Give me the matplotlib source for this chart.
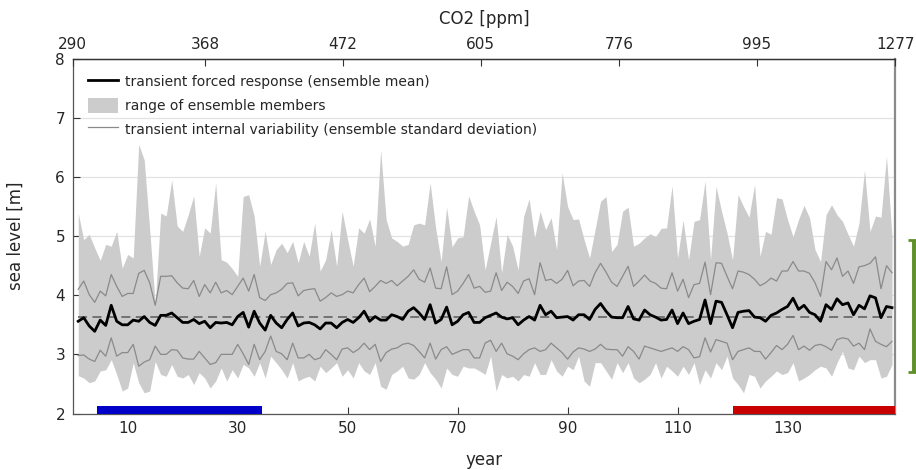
import numpy as np
import matplotlib
matplotlib.use("Agg")
import matplotlib.pyplot as plt
from matplotlib.lines import Line2D
from matplotlib.patches import Patch

years = list(range(1, 150))

ens_mean = [
    3.56, 3.62, 3.48, 3.39, 3.58, 3.49, 3.83, 3.56, 3.50, 3.50,
    3.58, 3.56, 3.64, 3.54, 3.49, 3.66, 3.66, 3.70, 3.62, 3.54,
    3.54, 3.59, 3.52, 3.56, 3.45, 3.54, 3.53, 3.54, 3.50, 3.64,
    3.71, 3.46, 3.73, 3.53, 3.41, 3.66, 3.53, 3.45, 3.59, 3.70,
    3.48, 3.53, 3.54, 3.50, 3.43, 3.53, 3.53, 3.45, 3.54, 3.59,
    3.54, 3.62, 3.73, 3.56, 3.64, 3.58, 3.58, 3.67, 3.64, 3.59,
    3.73, 3.79, 3.70, 3.59, 3.84, 3.53, 3.59, 3.80, 3.50, 3.56,
    3.67, 3.71, 3.54, 3.54, 3.62, 3.66, 3.70, 3.63, 3.60, 3.62,
    3.50, 3.58, 3.64, 3.58, 3.83, 3.67, 3.73, 3.62, 3.63, 3.64,
    3.58, 3.67, 3.67, 3.59, 3.76, 3.86, 3.73, 3.63, 3.62, 3.62,
    3.81, 3.60, 3.58, 3.75, 3.67, 3.63, 3.58, 3.59, 3.75, 3.52,
    3.70, 3.52, 3.56, 3.59, 3.92, 3.52, 3.90, 3.88, 3.67, 3.45,
    3.71, 3.73, 3.74, 3.63, 3.62, 3.56, 3.66, 3.70, 3.76, 3.81,
    3.95, 3.76, 3.83, 3.71, 3.67, 3.56, 3.84, 3.76, 3.94, 3.84,
    3.87, 3.67, 3.83, 3.77, 3.99, 3.955, 3.62, 3.81, 3.79,
]

ens_max = [
    5.39, 4.94, 5.03, 4.80, 4.59, 4.86, 4.83, 5.08, 4.46, 4.69,
    4.63, 6.55, 6.29, 5.11, 3.85, 5.39, 5.34, 5.95, 5.17, 5.08,
    5.36, 5.68, 4.66, 5.14, 5.05, 5.90, 4.60, 4.56, 4.45, 4.32,
    5.67, 5.70, 5.34, 4.49, 5.08, 4.52, 4.77, 4.88, 4.72, 4.91,
    4.55, 4.91, 4.66, 5.22, 4.41, 4.60, 5.11, 4.49, 5.42, 4.94,
    4.49, 5.14, 5.05, 5.29, 4.83, 6.46, 5.28, 4.97, 4.91, 4.83,
    4.86, 5.19, 5.22, 5.19, 5.90, 5.14, 4.57, 5.49, 4.82, 4.97,
    4.99, 5.68, 5.42, 5.19, 4.43, 4.88, 5.33, 4.38, 5.03, 4.83,
    4.43, 5.33, 5.63, 4.97, 5.42, 5.11, 5.31, 4.77, 6.07, 5.50,
    5.28, 5.29, 4.94, 4.63, 5.11, 5.59, 5.67, 4.74, 4.86, 5.42,
    5.49, 4.83, 4.88, 4.97, 5.04, 4.99, 5.13, 5.14, 5.85, 4.63,
    5.27, 4.60, 5.25, 5.28, 5.93, 4.60, 5.84, 5.42, 5.05, 4.60,
    5.70, 5.50, 5.32, 5.87, 4.66, 5.08, 5.03, 5.65, 5.63, 5.28,
    4.99, 5.28, 5.52, 5.31, 4.77, 4.57, 5.36, 5.53, 5.36, 5.25,
    5.03, 4.83, 5.22, 6.12, 5.08, 5.34, 5.32, 6.35, 5.00,
]

ens_min = [
    2.64, 2.60, 2.52, 2.55, 2.72, 2.74, 2.91, 2.66, 2.38, 2.43,
    2.86, 2.52, 2.35, 2.38, 2.88, 2.66, 2.63, 2.83, 2.63, 2.60,
    2.66, 2.49, 2.69, 2.60, 2.43, 2.55, 2.77, 2.55, 2.74, 2.60,
    2.83, 2.77, 2.63, 2.86, 2.60, 2.97, 2.86, 2.74, 2.60, 2.86,
    2.55, 2.60, 2.63, 2.55, 2.80, 2.69, 2.77, 2.86, 2.63, 2.74,
    2.60, 2.86, 2.72, 2.66, 2.86, 2.46, 2.41, 2.66, 2.72, 2.80,
    2.60, 2.58, 2.66, 2.86, 2.69, 2.58, 2.43, 2.77, 2.66, 2.63,
    2.80, 2.77, 2.77, 2.72, 2.66, 2.97, 2.38, 2.66, 2.60, 2.63,
    2.55, 2.66, 2.63, 2.86, 2.66, 2.66, 2.91, 2.72, 2.63, 2.80,
    2.74, 2.97, 2.55, 2.46, 2.86, 2.86, 2.72, 2.58, 2.86, 2.69,
    2.86, 2.60, 2.52, 2.58, 2.66, 2.86, 2.60, 2.80, 2.72, 2.63,
    2.80, 2.66, 2.86, 2.49, 2.74, 2.60, 2.86, 2.74, 2.97, 2.60,
    2.49, 2.35, 2.66, 2.63, 2.43, 2.55, 2.63, 2.72, 2.66, 2.69,
    2.86, 2.55, 2.60, 2.66, 2.74, 2.80, 2.77, 2.63, 2.86, 3.05,
    2.77, 2.74, 2.97, 2.86, 2.91, 2.91, 2.60, 2.63, 2.83,
]

std_upper = [
    4.10, 4.24, 4.01, 3.88, 4.07, 3.99, 4.35, 4.15, 3.98, 4.03,
    4.03, 4.37, 4.42, 4.21, 3.83, 4.32, 4.32, 4.33, 4.21, 4.12,
    4.11, 4.25, 3.98, 4.18, 4.04, 4.22, 4.04, 4.08, 4.01, 4.15,
    4.29, 4.07, 4.35, 3.96, 3.91, 4.01, 4.04, 4.10, 4.20, 4.21,
    3.99, 4.08, 4.10, 4.11, 3.90, 3.96, 4.04, 3.98, 4.01, 4.07,
    4.04, 4.18, 4.29, 4.06, 4.15, 4.25, 4.20, 4.25, 4.16, 4.24,
    4.32, 4.43, 4.27, 4.22, 4.46, 4.12, 4.11, 4.48, 4.01, 4.07,
    4.20, 4.35, 4.12, 4.15, 4.05, 4.07, 4.38, 4.08, 4.22, 4.15,
    4.03, 4.24, 4.28, 4.01, 4.55, 4.25, 4.27, 4.20, 4.27, 4.42,
    4.16, 4.24, 4.25, 4.15, 4.38, 4.54, 4.39, 4.22, 4.15, 4.32,
    4.49, 4.15, 4.24, 4.34, 4.24, 4.20, 4.12, 4.11, 4.38, 4.07,
    4.27, 3.96, 4.18, 4.20, 4.56, 4.01, 4.55, 4.54, 4.32, 4.11,
    4.41, 4.39, 4.35, 4.27, 4.16, 4.21, 4.29, 4.24, 4.41, 4.41,
    4.57, 4.41, 4.41, 4.37, 4.21, 3.98, 4.57, 4.43, 4.63, 4.32,
    4.41, 4.20, 4.48, 4.50, 4.54, 4.65, 4.11, 4.50, 4.38,
]

std_lower = [
    2.98, 2.99, 2.92, 2.88, 3.07, 2.97, 3.28, 2.97, 3.03, 3.03,
    3.17, 2.80, 2.87, 2.91, 3.14, 3.00, 3.00, 3.08, 3.07, 2.94,
    2.92, 2.92, 3.05, 2.94, 2.83, 2.86, 3.00, 3.00, 3.00, 3.17,
    3.01, 2.83, 3.17, 2.91, 3.05, 3.31, 3.05, 3.01, 2.91, 3.19,
    2.94, 2.94, 3.00, 2.91, 2.94, 3.08, 3.00, 2.91, 3.09, 3.11,
    3.03, 3.09, 3.19, 3.08, 3.17, 2.88, 3.03, 3.09, 3.11, 3.17,
    3.19, 3.15, 3.05, 2.94, 3.19, 2.92, 3.08, 3.13, 3.00, 3.04,
    3.08, 3.08, 2.94, 2.94, 3.19, 3.24, 3.05, 3.19, 3.01, 2.97,
    2.91, 3.01, 3.08, 3.11, 3.05, 3.08, 3.19, 3.11, 3.03, 2.92,
    3.04, 3.11, 3.09, 3.05, 3.09, 3.17, 3.09, 3.08, 3.08, 2.97,
    3.13, 3.05, 2.92, 3.14, 3.11, 3.08, 3.05, 3.08, 3.11, 3.05,
    3.13, 3.08, 2.94, 2.96, 3.28, 3.04, 3.25, 3.22, 3.19, 2.91,
    3.05, 3.08, 3.11, 3.05, 3.05, 2.92, 3.03, 3.15, 3.08, 3.17,
    3.32, 3.08, 3.14, 3.07, 3.15, 3.17, 3.13, 3.07, 3.25, 3.28,
    3.26, 3.14, 3.19, 3.08, 3.43, 3.22, 3.17, 3.13, 3.22,
]

baseline = 3.63
y_ticks = [2, 3, 4, 5, 6, 7, 8]
x_ticks = [10, 30, 50, 70, 90, 110, 130]
co2_ticks = [290, 368, 472, 605, 776, 995, 1277]
early_period = (4.5, 34.5)
late_period = (120, 150)
green_range = (2.70, 4.94)
green_x = 153

labels = [
    "transient forced response (ensemble mean)",
    "range of ensemble members",
    "transient internal variability (ensemble standard deviation)",
]

fig = plt.figure(figsize=(9.16, 4.70), dpi=100)
ax = fig.add_axes([0.0794, 0.1202, 0.898, 0.7549])
ax.set_xlim(0, 149.6)
ax.set_ylim(2, 8)
ax.set_yticks(y_ticks)
ax.set_xticks(x_ticks)
ax.grid(axis="y", color="#e2e2e2", lw=0.9)
ax.set_axisbelow(True)

ax.fill_between(years, ens_min, ens_max, color="#cccccc", lw=0, zorder=1)
ax.plot(years, std_upper, color="#8a8a8a", lw=0.9, zorder=2)
ax.plot(years, std_lower, color="#8a8a8a", lw=0.9, zorder=2)
ax.plot([years[0], years[-1]], [baseline, baseline], ls=(0, (5, 3)),
        color="#6b6b6b", lw=1.3, zorder=3)
ax.plot(years, ens_mean, color="black", lw=2.0, zorder=4)

bar_h = 0.12
ax.broken_barh([(early_period[0], early_period[1] - early_period[0])], (2, bar_h),
               facecolor="#0000c8", edgecolor="none", zorder=5)
ax.broken_barh([(late_period[0], late_period[1] - late_period[0])], (2, bar_h),
               facecolor="#c80000", edgecolor="none", zorder=5)

mid = (green_range[0] + green_range[1]) / 2
half = (green_range[1] - green_range[0]) / 2
eb = ax.errorbar([green_x], [mid], yerr=[[half], [half]], fmt="none",
                 ecolor="#5e9129", elinewidth=2.8, capsize=4.5, capthick=2)
for art in eb.get_children():
    art.set_clip_on(False)

for side in ["left", "bottom"]:
    ax.spines[side].set_color("#555555")
    ax.spines[side].set_linewidth(0.9)
ax.spines["top"].set_color("#333333")
ax.spines["top"].set_linewidth(0.9)
ax.spines["right"].set_color("#8a8a8a")
ax.spines["right"].set_linewidth(1.6)

ax.tick_params(axis="both", direction="in", length=5, width=0.8, color="#333333",
               labelsize=11, labelcolor="#262626")
ax.tick_params(axis="x", pad=5.5)
ax.tick_params(axis="y", pad=5.5)

ax.set_xlabel("year", fontsize=12, color="#262626", labelpad=11)
ax.set_ylabel("sea level [m]", fontsize=12, color="#262626", labelpad=22)

ax2 = ax.twiny()
ax2.set_xscale("log")
ax2.set_xlim(co2_ticks[0], co2_ticks[-1])
ax2.set_xticks(co2_ticks)
ax2.set_xticklabels([str(c) for c in co2_ticks])
ax2.minorticks_off()
ax2.tick_params(axis="x", direction="in", length=5, width=0.8, color="#333333",
                labelsize=11, labelcolor="#262626", pad=5)
for side in ["left", "bottom", "right"]:
    ax2.spines[side].set_visible(False)
ax2.spines["top"].set_color("#333333")
ax2.spines["top"].set_linewidth(0.9)
ax2.set_xlabel("CO2 [ppm]", fontsize=12, color="#262626", labelpad=9)

handles = [
    Line2D([], [], color="black", lw=2.0),
    Patch(facecolor="#cccccc", edgecolor="none"),
    Line2D([], [], color="#8a8a8a", lw=0.9),
]
ax.legend(handles, labels, loc="upper left", bbox_to_anchor=(0.0118, 0.972),
          borderaxespad=0, frameon=False, fontsize=10, handlelength=2.15,
          handleheight=1.3, labelspacing=0.6, handletextpad=0.5,
          labelcolor="#262626")

fig.savefig("out.png", dpi=100)
